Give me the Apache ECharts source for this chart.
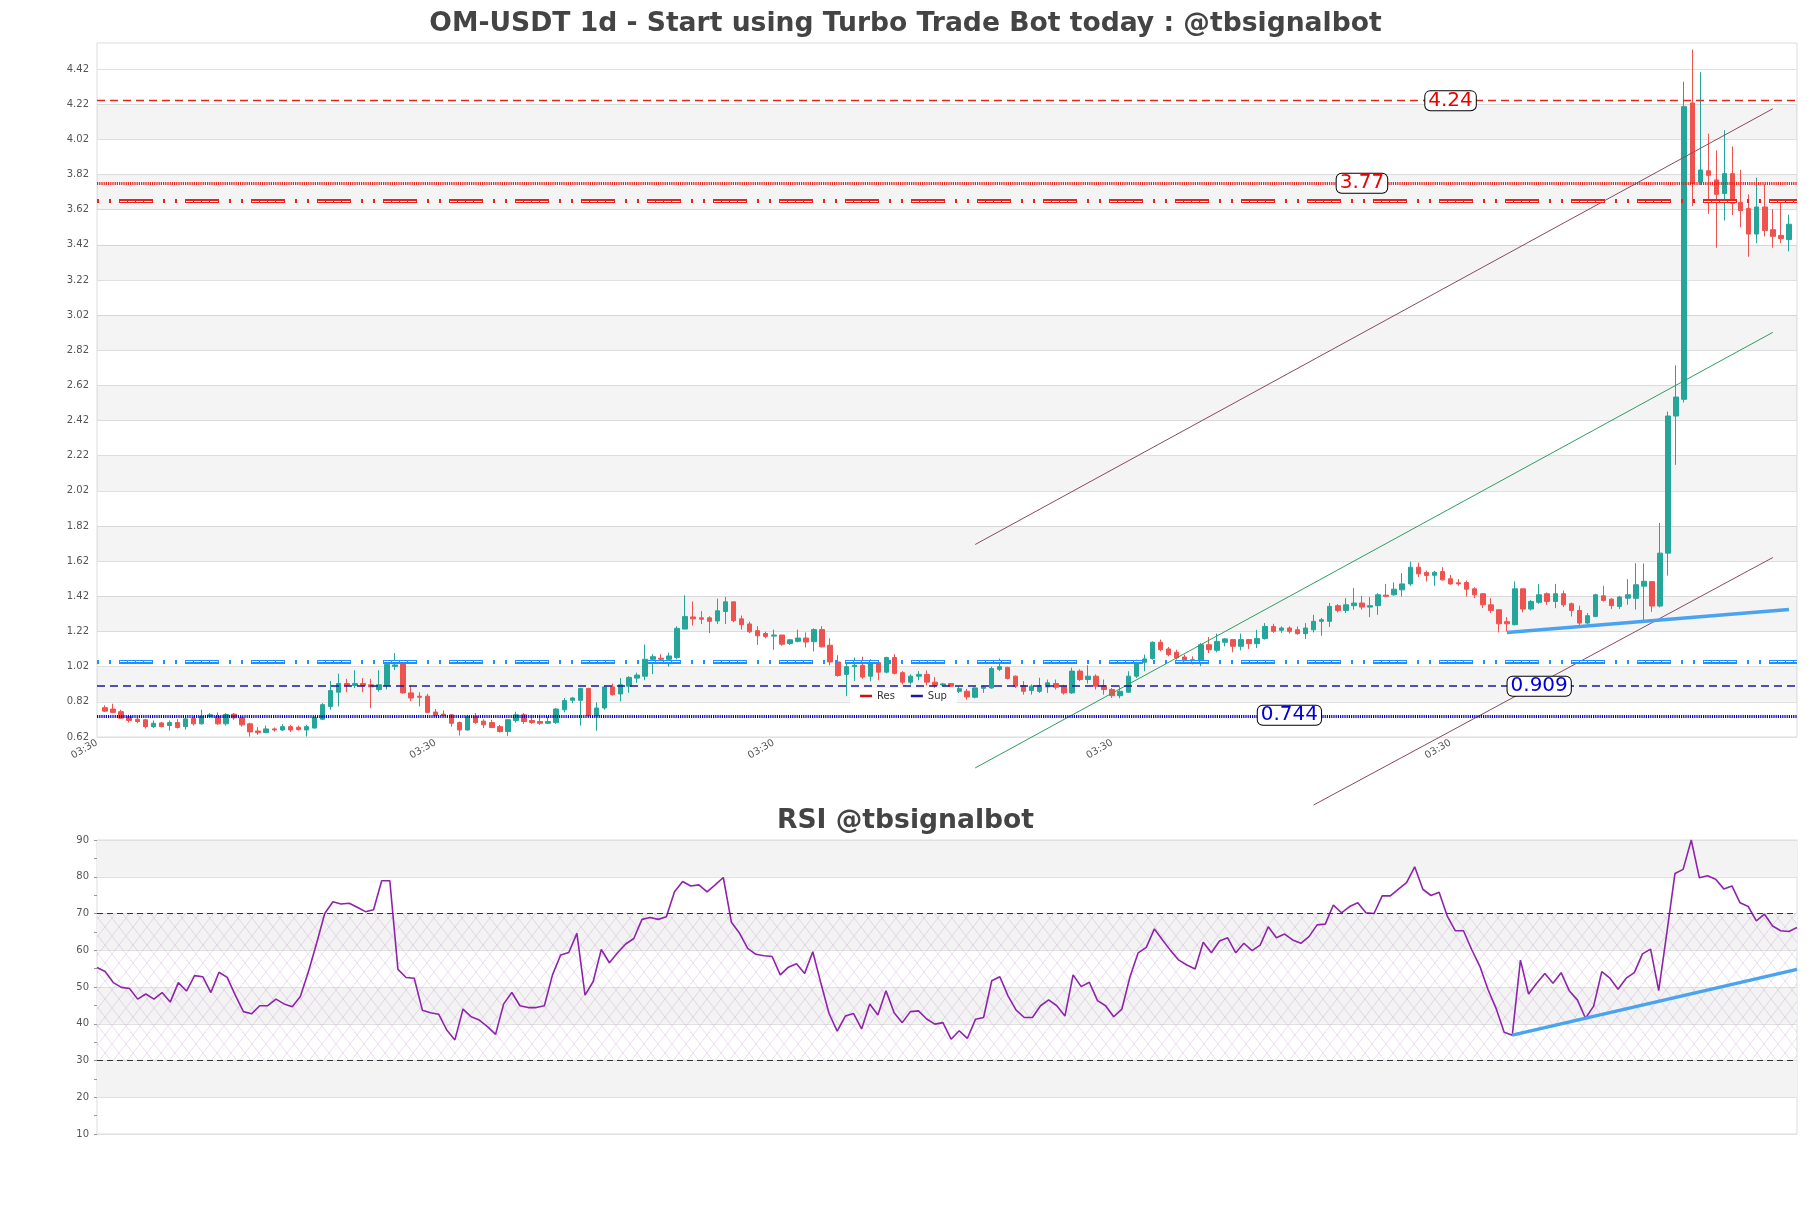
<!DOCTYPE html>
<html><head><meta charset="utf-8">
<script src="https://cdn.jsdelivr.net/npm/echarts@6/dist/echarts.min.js"></script>
<style>html,body{margin:0;padding:0;background:#fff}#c{width:1811px;height:1208px}</style>
</head><body><div id="c"></div>
<script>
// ---- candles: [open, close, low, high] ----
const ohlc = [
[0.787,0.767,0.762,0.800],[0.779,0.760,0.756,0.809],[0.764,0.727,0.723,0.775],[0.737,0.714,0.702,0.746],[0.721,0.708,0.698,0.733],
[0.718,0.679,0.668,0.721],[0.679,0.698,0.672,0.714],[0.700,0.679,0.675,0.706],[0.685,0.702,0.656,0.714],[0.702,0.674,0.668,0.721],
[0.679,0.723,0.662,0.737],[0.725,0.695,0.685,0.737],[0.695,0.737,0.691,0.775],[0.737,0.746,0.733,0.756],[0.737,0.695,0.689,0.760],
[0.695,0.748,0.685,0.756],[0.750,0.729,0.718,0.756],[0.729,0.689,0.679,0.737],[0.695,0.649,0.622,0.702],[0.654,0.645,0.632,0.676],
[0.645,0.666,0.641,0.685],[0.666,0.660,0.651,0.674],[0.660,0.679,0.654,0.693],[0.679,0.660,0.649,0.689],[0.675,0.662,0.656,0.685],
[0.660,0.679,0.622,0.689],[0.671,0.731,0.668,0.737],[0.721,0.804,0.718,0.813],[0.794,0.884,0.775,0.938],[0.875,0.924,0.794,0.980],
[0.924,0.913,0.875,0.951],[0.913,0.924,0.898,1.000],[0.924,0.913,0.875,0.955],[0.917,0.905,0.785,0.951],[0.890,0.917,0.878,1.000],
[0.913,1.033,0.890,1.043],[1.022,1.030,1.001,1.097],[1.039,0.871,0.867,1.043],[0.871,0.842,0.823,0.909],[0.852,0.846,0.794,0.875],
[0.852,0.760,0.756,0.865],[0.762,0.741,0.737,0.779],[0.750,0.743,0.737,0.771],[0.746,0.698,0.679,0.750],[0.702,0.660,0.628,0.708],
[0.660,0.737,0.656,0.746],[0.737,0.702,0.695,0.756],[0.710,0.689,0.670,0.721],[0.702,0.674,0.670,0.718],[0.679,0.651,0.645,0.689],
[0.651,0.718,0.626,0.721],[0.714,0.746,0.702,0.764],[0.746,0.708,0.695,0.756],[0.714,0.702,0.695,0.746],[0.708,0.698,0.689,0.746],
[0.698,0.708,0.695,0.737],[0.702,0.779,0.695,0.785],[0.775,0.827,0.760,0.842],[0.829,0.842,0.813,0.848],[0.829,0.896,0.685,0.900],
[0.896,0.741,0.737,0.900],[0.741,0.785,0.656,0.817],[0.785,0.905,0.775,0.913],[0.905,0.861,0.855,0.924],[0.865,0.917,0.823,0.955],
[0.909,0.959,0.871,0.966],[0.955,0.972,0.928,0.986],[0.966,1.062,0.943,1.146],[1.062,1.077,0.978,1.091],[1.068,1.062,1.043,1.091],
[1.062,1.081,1.020,1.100],[1.072,1.238,1.062,1.250],[1.234,1.305,1.234,1.426],[1.303,1.292,1.254,1.391],[1.298,1.290,1.263,1.336],
[1.298,1.278,1.211,1.307],[1.280,1.338,1.263,1.407],[1.334,1.389,1.263,1.416],[1.389,1.282,1.273,1.389],[1.292,1.259,1.231,1.311],
[1.263,1.219,1.211,1.276],[1.225,1.196,1.144,1.250],[1.209,1.192,1.181,1.219],[1.194,1.200,1.116,1.231],[1.200,1.148,1.139,1.200],
[1.152,1.173,1.144,1.177],[1.164,1.183,1.158,1.231],[1.183,1.160,1.129,1.215],[1.162,1.231,1.106,1.238],[1.231,1.133,1.129,1.250],
[1.142,1.047,1.028,1.181],[1.047,0.970,0.963,1.085],[0.976,1.020,0.852,1.058],[1.020,1.028,0.938,1.072],[1.028,0.961,0.951,1.077],
[0.966,1.047,0.938,1.062],[1.043,0.989,0.943,1.056],[0.989,1.072,0.982,1.077],[1.072,0.982,0.976,1.091],[0.986,0.932,0.919,0.995],
[0.932,0.966,0.919,0.976],[0.966,0.976,0.943,0.995],[0.976,0.932,0.913,0.999],[0.932,0.913,0.899,0.961],[0.916,0.922,0.913,0.928],
[0.924,0.909,0.905,0.924],[0.880,0.895,0.870,0.905],[0.880,0.848,0.832,0.894],[0.846,0.899,0.840,0.905],[0.897,0.905,0.871,0.913],
[0.899,1.009,0.894,1.020],[1.005,1.020,0.995,1.066],[1.016,0.953,0.947,1.020],[0.966,0.909,0.899,0.970],[0.913,0.880,0.861,0.938],
[0.884,0.909,0.861,0.919],[0.880,0.913,0.871,0.957],[0.905,0.928,0.871,0.947],[0.924,0.903,0.890,0.947],[0.909,0.871,0.861,0.917],
[0.871,0.995,0.865,1.014],[0.995,0.947,0.938,1.005],[0.947,0.966,0.924,1.028],[0.966,0.909,0.890,0.976],[0.913,0.890,0.861,0.947],
[0.890,0.855,0.842,0.899],[0.855,0.880,0.840,0.913],[0.875,0.966,0.871,0.994],[0.966,1.051,0.956,1.060],[1.045,1.064,0.994,1.089],
[1.066,1.159,1.060,1.164],[1.159,1.117,1.108,1.174],[1.121,1.089,1.079,1.132],[1.102,1.070,1.060,1.117],[1.075,1.060,1.045,1.089],
[1.060,1.038,1.032,1.079],[1.041,1.145,1.023,1.155],[1.145,1.117,1.098,1.189],[1.113,1.164,1.102,1.208],[1.159,1.178,1.136,1.183],
[1.174,1.136,1.102,1.178],[1.136,1.174,1.113,1.208],[1.174,1.151,1.121,1.178],[1.151,1.180,1.126,1.230],[1.180,1.249,1.174,1.268],
[1.249,1.221,1.212,1.264],[1.227,1.240,1.212,1.249],[1.240,1.221,1.208,1.249],[1.230,1.208,1.202,1.249],[1.208,1.240,1.178,1.268],
[1.230,1.278,1.215,1.315],[1.278,1.287,1.196,1.297],[1.278,1.363,1.246,1.382],[1.367,1.340,1.329,1.376],[1.340,1.372,1.325,1.410],
[1.367,1.382,1.344,1.467],[1.382,1.359,1.344,1.423],[1.359,1.367,1.302,1.416],[1.367,1.429,1.315,1.438],[1.427,1.420,1.416,1.491],
[1.429,1.461,1.423,1.499],[1.457,1.491,1.419,1.552],[1.491,1.586,1.480,1.618],[1.586,1.548,1.529,1.612],[1.556,1.539,1.505,1.567],
[1.540,1.557,1.480,1.565],[1.561,1.514,1.510,1.586],[1.520,1.491,1.486,1.542],[1.497,1.491,1.480,1.518],[1.499,1.461,1.419,1.510],
[1.463,1.429,1.410,1.472],[1.435,1.372,1.353,1.438],[1.372,1.340,1.325,1.410],[1.344,1.264,1.215,1.344],[1.276,1.264,1.220,1.302],
[1.259,1.463,1.255,1.505],[1.463,1.348,1.329,1.463],[1.348,1.391,1.340,1.400],[1.386,1.429,1.378,1.491],[1.435,1.391,1.372,1.442],
[1.391,1.435,1.353,1.491],[1.435,1.372,1.359,1.453],[1.378,1.340,1.306,1.385],[1.340,1.268,1.253,1.367],[1.268,1.310,1.264,1.325],
[1.306,1.429,1.302,1.435],[1.423,1.397,1.391,1.480],[1.404,1.367,1.348,1.410],[1.363,1.416,1.348,1.423],[1.410,1.429,1.372,1.518],
[1.409,1.486,1.345,1.609],[1.478,1.506,1.280,1.607],[1.504,1.365,1.332,1.504],[1.365,1.666,1.357,1.838],[1.666,2.446,1.538,2.471],
[2.446,2.554,2.168,2.734],[2.541,4.206,2.523,4.348],[4.227,3.769,3.640,4.531],[3.777,3.846,3.760,4.402],[3.841,3.815,3.596,4.052],
[3.789,3.707,3.403,3.957],[3.712,3.825,3.558,4.072],[3.825,3.656,3.589,3.980],[3.661,3.614,3.519,3.846],[3.627,3.481,3.352,3.707],
[3.481,3.635,3.429,3.802],[3.635,3.501,3.468,3.764],[3.506,3.468,3.403,3.622],[3.473,3.455,3.429,3.661],[3.450,3.537,3.383,3.591]
];
// ---- RSI values (one per candle) ----
const rsi = [
55.3,54.2,51.2,49.9,49.6,46.7,48.1,46.7,48.5,45.9,
51.2,48.9,53.1,52.8,48.5,54.0,52.6,47.8,43.3,42.7,
44.9,44.9,46.7,45.4,44.6,47.4,54.2,61.9,70.0,73.2,
72.6,72.8,71.7,70.5,71.0,78.9,78.9,54.8,52.6,52.4,
43.7,43.0,42.6,38.3,35.6,44.0,41.9,41.0,39.2,37.1,
45.4,48.5,44.9,44.4,44.4,44.9,53.3,58.7,59.4,64.6,
47.8,51.5,60.2,56.6,59.3,61.7,63.2,68.4,68.9,68.4,
69.1,75.9,78.7,77.5,77.8,75.9,77.8,79.8,67.6,64.6,
60.5,58.9,58.5,58.3,53.3,55.4,56.3,53.7,59.6,51.0,
42.8,38.0,42.1,42.8,38.6,45.4,42.4,49.0,43.0,40.3,
43.3,43.5,41.3,39.9,40.3,35.8,38.1,36.0,41.2,41.7,
51.7,52.8,47.6,43.7,41.7,41.7,44.9,46.5,44.9,42.1,
53.3,50.1,51.3,46.3,44.9,41.9,44.0,52.8,59.3,60.8,
65.8,62.8,59.9,57.3,56.0,54.9,62.2,59.3,62.5,63.4,
59.3,61.9,59.9,61.4,66.4,63.4,64.4,62.8,61.9,63.7,
66.9,67.1,72.3,70.2,71.9,72.9,70.2,70.0,74.8,74.8,
76.6,78.4,82.7,76.6,74.9,75.8,69.3,65.3,65.3,60.2,
55.7,49.4,44.2,37.7,36.9,57.3,48.1,51.0,53.7,51.0,
53.9,49.0,46.5,41.5,44.8,54.2,52.4,49.4,52.4,53.9,
59.0,60.3,49.0,64.8,80.9,82.0,90.0,79.7,80.3,79.3,
76.7,77.5,72.9,71.9,68.0,69.8,66.6,65.3,65.1,66.2
];
// ---- axis ticks / labels ----
const priceTicks = [0.62,0.82,1.02,1.22,1.42,1.62,1.82,2.02,2.22,2.42,2.62,2.82,3.02,3.22,3.42,3.62,3.82,4.02,4.22,4.42];
const xTickLabels = ['03:30','03:30','03:30','03:30','03:30'];
const xTickEvery = 42;
const rsiLevels = [70, 30];
// ---- levels ----
const resDashed = 4.24, resDotted = 3.77, resPattern = 3.666;
const supPattern = 1.05, supDashed = 0.909, supDotted = 0.744;
// label: [candle index, value, text]
const resLabels = [[167, 4.24, '4.24'], [156, 3.77, '3.77']];
const supLabels = [[178, 0.909, '0.909'], [147, 0.744, '0.744']];
// ---- trend lines: [candle index, value] ----
const channelUpper = [[108, 1.715], [207, 4.194]];
const channelMid = [[108, 0.444], [207, 2.922]];
const channelLower = [[150, 0.233], [207, 1.641]];
const priceTrend = [[174, 1.214], [209, 1.345]];
const rsiTrend = [[174, 36.9], [209, 54.8]];

const FONT = 'DejaVu Sans';
const nCats = ohlc.length + 2;
const xCats = Array.from({length: nCats}, (_, i) => String(i));
const rsiCats = rsi.map((_, i) => String(i));
const candleData = ohlc.map((d, i) => [i + 1, d[0], d[1], d[2], d[3]]);
const shift = arr => arr.map(p => [p[0] + 1, p[1]]);

const bands = [];
for (let k = 1; k < priceTicks.length - 1; k += 2) bands.push([{yAxis: priceTicks[k]}, {yAxis: priceTicks[k + 1]}]);

function hatch() {
  const c = document.createElement('canvas'); c.width = 14; c.height = 18;
  const g = c.getContext('2d');
  g.strokeStyle = 'rgba(170,120,190,0.30)'; g.lineWidth = 0.8;
  g.beginPath(); g.moveTo(0, 0); g.lineTo(14, 18); g.moveTo(14, 0); g.lineTo(0, 18); g.stroke();
  return c;
}
const boxLabel = (color) => ({
  show: true, position: 'inside', color: color, fontSize: 20, lineHeight: 17, fontFamily: FONT,
  backgroundColor: '#fff', borderColor: '#000', borderWidth: 1, borderRadius: 5, padding: [1, 3, 1, 3]
});
const patternLines = (val, color) => ([
  {yAxis: val, lineStyle: {color: color, width: 4, type: [2, 10, 2, 8, 34, 10]}},
  {yAxis: val, lineStyle: {color: '#fff', width: 1.2, type: [0, 23, 7, 1, 7, 1, 7, 1, 8, 11]}}
]);

const chart = echarts.init(document.getElementById('c'), null, {renderer: 'canvas'});
chart.setOption({
  animation: false,
  backgroundColor: '#fff',
  textStyle: {fontFamily: FONT},
  title: [
    {text: 'OM-USDT 1d - Start using Turbo Trade Bot today : @tbsignalbot', left: 'center', top: 11, padding: 0,
     textStyle: {fontSize: 26.6, fontWeight: 'bold', color: '#444', fontFamily: FONT}},
    {text: 'RSI @tbsignalbot', left: 'center', top: 808, padding: 0,
     textStyle: {fontSize: 26.6, fontWeight: 'bold', color: '#444', fontFamily: FONT}}
  ],
  legend: {
    data: ['Res', 'Sup'], left: 850, top: 688, padding: [3, 10], itemGap: 16,
    backgroundColor: '#fff', icon: 'rect', itemWidth: 12, itemHeight: 2.5,
    textStyle: {fontSize: 10, color: '#333', fontFamily: FONT}
  },
  grid: [
    {left: 97, right: 14, top: 43, height: 694, show: true, borderColor: '#ddd', borderWidth: 1},
    {left: 97, right: 14, top: 840, height: 294, show: true, borderColor: '#ddd', borderWidth: 1}
  ],
  xAxis: [
    {type: 'category', gridIndex: 0, data: xCats, boundaryGap: false,
     axisLine: {show: false}, axisTick: {show: false}, splitLine: {show: false},
     axisLabel: {rotate: 30, fontSize: 10, color: '#555', margin: 5, fontFamily: FONT,
       interval: (i) => i % xTickEvery === 0 && i / xTickEvery < xTickLabels.length,
       formatter: (v, i) => xTickLabels[Math.round(i / xTickEvery)] || ''}},
    {type: 'category', gridIndex: 1, data: rsiCats, boundaryGap: false,
     axisLine: {show: false}, axisTick: {show: false}, axisLabel: {show: false}, splitLine: {show: false}}
  ],
  yAxis: [
    {type: 'value', gridIndex: 0, min: 0.62, max: 4.568, scale: true,
     axisLine: {show: false},
     axisTick: {show: false, customValues: priceTicks},
     axisLabel: {customValues: priceTicks, fontSize: 10, color: '#555', margin: 8, fontFamily: FONT,
       formatter: v => v.toFixed(2)},
     splitLine: {show: true, lineStyle: {color: '#e0e0e0'}}},
    {type: 'value', gridIndex: 1, min: 10, max: 90, interval: 10,
     axisLine: {show: false},
     axisTick: {show: true, length: 3, lineStyle: {color: '#999'}},
     minorTick: {show: true, splitNumber: 2, length: 3, lineStyle: {color: '#999'}},
     axisLabel: {fontSize: 10, color: '#555', margin: 8, fontFamily: FONT},
     splitLine: {show: true, lineStyle: {color: '#e0e0e0'}},
     splitArea: {show: true, areaStyle: {color: ['rgba(255,255,255,0)', '#f3f3f3']}}}
  ],
  series: [
    {name: 'bands', type: 'line', xAxisIndex: 0, yAxisIndex: 0, data: [], silent: true, z: 0,
     markArea: {silent: true, itemStyle: {color: 'rgba(0,0,0,0.045)'}, data: bands}},
    {name: 'candles', type: 'candlestick', xAxisIndex: 0, yAxisIndex: 0, data: candleData,
     encode: {x: 0, y: [1, 2, 3, 4]}, barWidth: 5,
     itemStyle: {color: '#26a69a', color0: '#ef5350', borderColor: '#26a69a', borderColor0: '#ef5350', borderWidth: 1}},
    {name: 'Res', type: 'line', xAxisIndex: 0, yAxisIndex: 0, data: [], color: '#cc1111', z: 3,
     markLine: {silent: true, symbol: 'none', label: {show: false},
       data: [
         {yAxis: resDashed, lineStyle: {color: '#e8221c', width: 1.3, type: [8, 5]}},
         {yAxis: resDotted, lineStyle: {color: '#e8221c', width: 3, type: [1.2, 1]}}
       ].concat(patternLines(resPattern, '#e8221c'))},
     markPoint: {symbol: 'rect', symbolSize: 1, itemStyle: {color: 'rgba(0,0,0,0)'},
       data: resLabels.map(l => ({coord: [l[0] + 1, l[1]], value: l[2], label: Object.assign(boxLabel('#ee0000'), {formatter: l[2]})}))}},
    {name: 'Sup', type: 'line', xAxisIndex: 0, yAxisIndex: 0, data: [], color: '#1a1aa0', z: 3,
     markLine: {silent: true, symbol: 'none', label: {show: false},
       data: [
         {yAxis: supDashed, lineStyle: {color: '#1a1a9a', width: 1.5, type: [8, 5]}},
         {yAxis: supDotted, lineStyle: {color: '#0000cc', width: 3, type: [1.2, 1]}}
       ].concat(patternLines(supPattern, '#1e90ff'))},
     markPoint: {symbol: 'rect', symbolSize: 1, itemStyle: {color: 'rgba(0,0,0,0)'},
       data: supLabels.map(l => ({coord: [l[0] + 1, l[1]], value: l[2], label: Object.assign(boxLabel('#0000dd'), {formatter: l[2]})}))}},
    {name: 'upper', type: 'line', xAxisIndex: 0, yAxisIndex: 0, data: shift(channelUpper), clip: false,
     showSymbol: false, silent: true, lineStyle: {color: '#8a4a5e', width: 1}, z: 4},
    {name: 'mid', type: 'line', xAxisIndex: 0, yAxisIndex: 0, data: shift(channelMid), clip: false,
     showSymbol: false, silent: true, lineStyle: {color: '#2e9e60', width: 1}, z: 4},
    {name: 'lower', type: 'line', xAxisIndex: 0, yAxisIndex: 0, data: shift(channelLower), clip: false,
     showSymbol: false, silent: true, lineStyle: {color: '#8a4a5e', width: 1}, z: 4},
    {name: 'ptrend', type: 'line', xAxisIndex: 0, yAxisIndex: 0, data: shift(priceTrend),
     showSymbol: false, silent: true, lineStyle: {color: '#4aa3f0', width: 3.5}, z: 4},
    {name: 'RSI', type: 'line', xAxisIndex: 1, yAxisIndex: 1, data: rsi, showSymbol: false,
     lineStyle: {color: '#8e24aa', width: 1.6}, z: 3,
     markArea: {silent: true, itemStyle: {color: {image: hatch(), repeat: 'repeat'}},
       data: [[{yAxis: rsiLevels[1]}, {yAxis: rsiLevels[0]}]]},
     markLine: {silent: true, symbol: 'none', label: {show: false},
       lineStyle: {color: '#333', width: 1.2, type: [6, 4]},
       data: rsiLevels.map(v => ({yAxis: v}))}},
    {name: 'rtrend', type: 'line', xAxisIndex: 1, yAxisIndex: 1, data: rsiTrend,
     showSymbol: false, silent: true, lineStyle: {color: '#4aa3f0', width: 3.5}, z: 4}
  ]
});
</script></body></html>
